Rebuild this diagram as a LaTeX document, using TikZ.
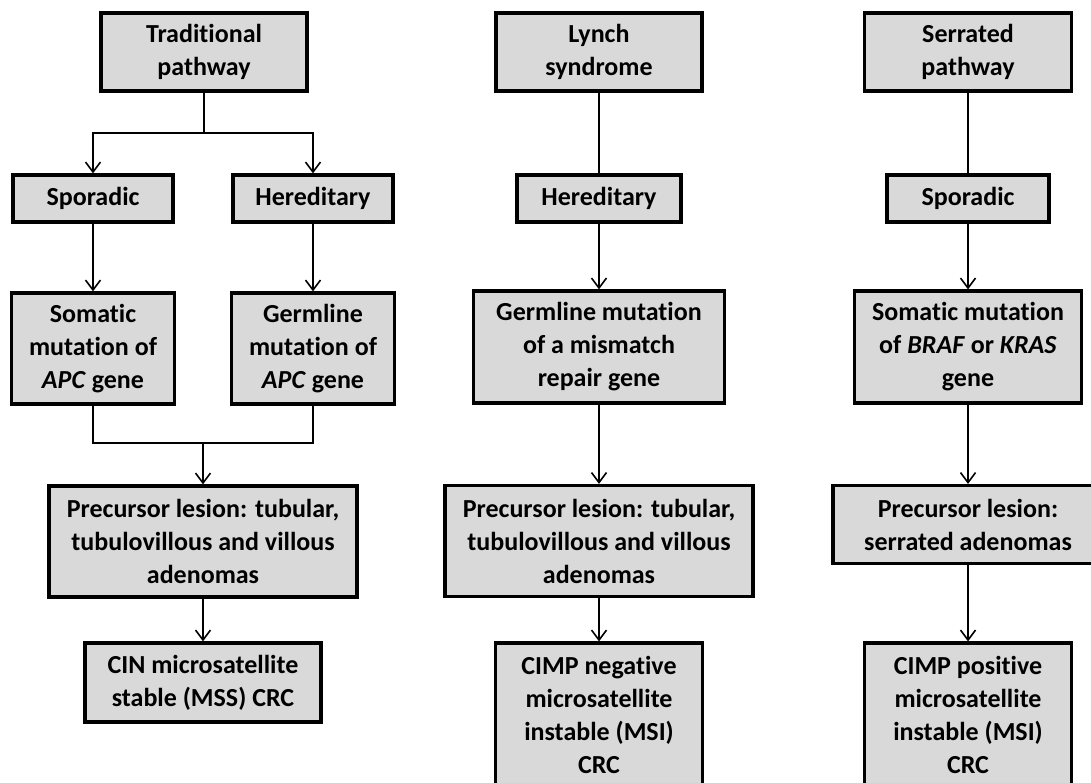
\documentclass[tikz,border=0pt]{standalone}
\usepackage{fontspec}
\setmainfont{Carlito}[Ligatures=NoCommon]
\usetikzlibrary{positioning,arrows.meta}
\definecolor{boxgray}{RGB}{217,217,217}

\begin{document}
\begin{tikzpicture}[
    x=1pt, y=-1pt,
    box/.style={draw, line width=3.2pt, fill=boxgray, align=center, inner sep=0pt, font=\fontsize{26}{33}\selectfont\bfseries},
    head/.style={box, minimum width=206pt, minimum height=78pt},
    kind/.style={box, minimum width=162pt, minimum height=47pt},
    mut/.style={box, minimum height=112pt},
    lesion/.style={box, minimum width=308pt, minimum height=111pt},
    crc/.style={box, minimum width=207pt, minimum height=144pt},
    link/.style={line width=1.6pt},
    arr/.style={link, -{Straight Barb[length=10pt, width=15pt, line width=1.6pt]}}
]
\useasboundingbox (0,0) rectangle (1091,783);

% Nodes: traditional pathway
\node[head] (trad) at (204,52) {Traditional\\pathway};
\node[kind, minimum width=160pt] (spor1) at (93,198.5) {Sporadic};
\node[kind, minimum width=160pt] (her1) at (313,198.5) {Hereditary};
\node[mut, minimum width=163pt, minimum height=111pt] (som1) at (93,348.5) {Somatic\\mutation of\\\textit{APC} gene};
\node[mut, minimum width=163pt, minimum height=111pt] (germ1) at (313,348.5) {Germline\\mutation of\\\textit{APC} gene};
\node[lesion] (prec1) at (203,541.5) {Precursor lesion: tubular,\\tubulovillous and villous\\adenomas};
\node[box, minimum width=236pt, minimum height=79pt] (cin) at (203,682.5) {CIN microsatellite\\stable (MSS) CRC};
\coordinate (split1) at (204,133);
\coordinate (join1) at (203,443);

% Nodes: Lynch syndrome
\node[head] (lynch) at (599,52) {Lynch\\syndrome};
\node[kind, minimum width=164pt] (her2) at (599,198.5) {Hereditary};
\node[mut, minimum width=251pt] (germ2) at (599,347) {Germline mutation\\of a mismatch\\repair gene};
\node[lesion] (prec2) at (599,541) {Precursor lesion: tubular,\\tubulovillous and villous\\adenomas};
\node[crc] (cimpneg) at (599,715) {CIMP negative\\microsatellite\\instable (MSI)\\CRC};

% Nodes: serrated pathway
\node[head, minimum width=207pt] (serr) at (968,52) {Serrated\\pathway};
\node[kind] (spor3) at (968,198.5) {Sporadic};
\node[mut, minimum width=227pt] (som3) at (968,347) {Somatic mutation\\of \textit{BRAF} or \textit{KRAS}\\gene};
\node[box, minimum width=270pt, minimum height=78pt] (prec3) at (968,524.5) {Precursor lesion:\\serrated adenomas};
\node[crc] (cimppos) at (968,715) {CIMP positive\\microsatellite\\instable (MSI)\\CRC};

% Arrows
\draw[link] (trad) -- (split1);
\draw[arr] (split1) -| (spor1);
\draw[arr] (split1) -| (her1);
\draw[arr] (spor1) -- (som1);
\draw[arr] (her1) -- (germ1);
\draw[link] (som1) |- (join1);
\draw[link] (germ1) |- (join1);
\draw[arr] (join1) -- (prec1);
\draw[arr] (prec1) -- (cin);

\draw[link] (lynch) -- (her2);
\draw[arr] (her2) -- (germ2);
\draw[arr] (germ2) -- (prec2);
\draw[arr] (prec2) -- (cimpneg);

\draw[link] (serr) -- (spor3);
\draw[arr] (spor3) -- (som3);
\draw[arr] (som3) -- (prec3);
\draw[arr] (prec3) -- (cimppos);
\end{tikzpicture}
\end{document}
